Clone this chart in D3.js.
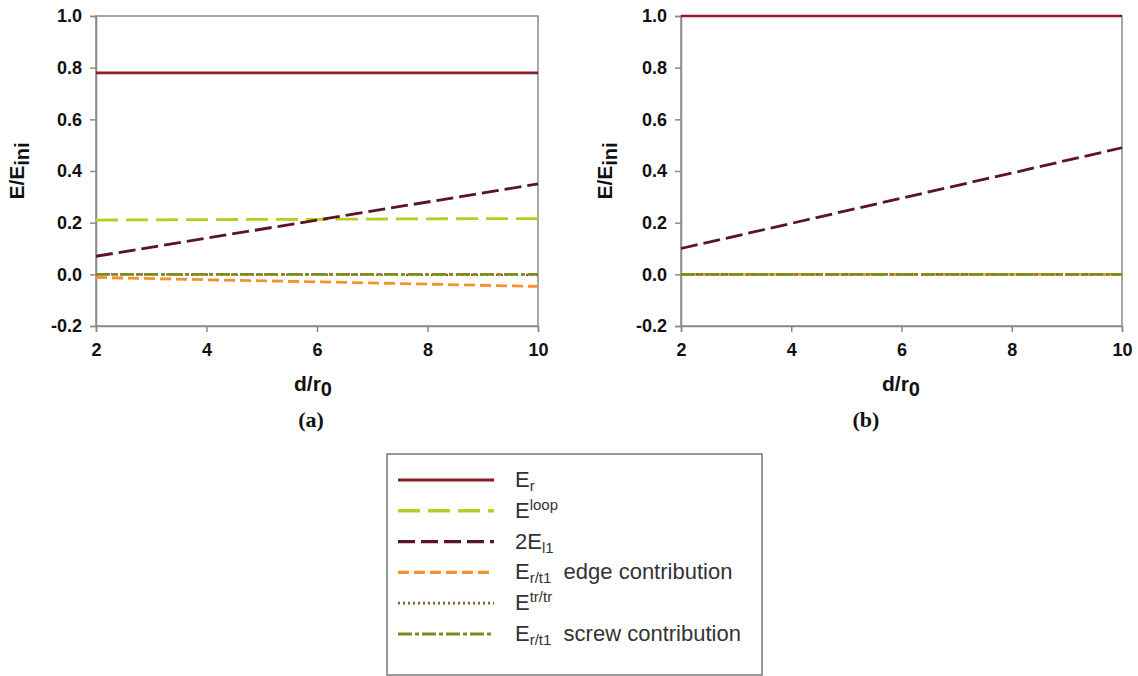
<!DOCTYPE html>
<html>
<head>
<meta charset="utf-8">
<script src="https://cdn.jsdelivr.net/npm/d3@7/dist/d3.min.js"></script>
<style>
  html, body { margin: 0; padding: 0; background: #fff; }
  svg { display: block; }
</style>
</head>
<body>
<svg id="chart" width="1138" height="676"></svg>
<script>
// Normalised energy terms versus separation d/r0
const xValues = [2, 4, 6, 8, 10];
const xTicks = [2, 4, 6, 8, 10];
const yTicks = [-0.2, 0.0, 0.2, 0.4, 0.6, 0.8, 1.0];

// Panel (a)
const a_Er = [0.78, 0.78, 0.78, 0.78, 0.78];
const a_Eloop = [0.21, 0.212, 0.213, 0.215, 0.216];
const a_2El1 = [0.07, 0.14, 0.21, 0.28, 0.35];
const a_edge = [-0.012, -0.021, -0.029, -0.038, -0.047];
const a_trtr = [0.0, -0.001, -0.001, -0.002, -0.002];
const a_screw = [0.0, 0.0, 0.0, 0.0, 0.0];

// Panel (b)
const b_Er = [1.0, 1.0, 1.0, 1.0, 1.0];
const b_Eloop = [0.0, 0.0, 0.0, 0.0, 0.0];
const b_2El1 = [0.10, 0.197, 0.295, 0.392, 0.49];
const b_edge = [0.0, 0.0, 0.0, 0.0, 0.0];
const b_trtr = [0.0, 0.0, 0.0, 0.0, 0.0];
const b_screw = [0.0, 0.0, 0.0, 0.0, 0.0];

// Series styling (order = drawing / legend order)
const seriesStyles = [
  { key: "Er",    color: "#8e1b25", dash: null,        width: 2.6 },
  { key: "Eloop", color: "#b9cc22", dash: "22,8",      width: 2.8 },
  { key: "2El1",  color: "#5b1422", dash: "17,6",      width: 2.8 },
  { key: "edge",  color: "#f39229", dash: "11,5",      width: 2.8 },
  { key: "trtr",  color: "#8a5a2e", dash: "2,3",       width: 2.2 },
  { key: "screw", color: "#7d8c1c", dash: "14,3,4,3",  width: 2.6 }
];

const panels = [
  { label: "(a)", left: 96, right: 538, series: [a_Er, a_Eloop, a_2El1, a_edge, a_trtr, a_screw],
    yTitleX: 24, xTitleX: 313, labelX: 311 },
  { label: "(b)", left: 681, right: 1122, series: [b_Er, b_Eloop, b_2El1, b_edge, b_trtr, b_screw],
    yTitleX: 612, xTitleX: 901, labelX: 866 }
];

const plotTop = 16, plotBottom = 326;
const svg = d3.select("#chart");
const axisColor = "#8a8a8a";
const fontSans = "Arial, 'Liberation Sans', Helvetica, sans-serif";
const fontSerif = "'Times New Roman', 'Liberation Serif', serif";
const fmtY = d => d3.format(".1f")(d).replace("\u2212", "-");

panels.forEach(p => {
  const x = d3.scaleLinear().domain([2, 10]).range([p.left, p.right]);
  const y = d3.scaleLinear().domain([-0.2, 1.0]).range([plotBottom, plotTop]);
  const g = svg.append("g");

  // plot frame
  g.append("rect")
    .attr("x", p.left).attr("y", plotTop)
    .attr("width", p.right - p.left).attr("height", plotBottom - plotTop)
    .attr("fill", "none").attr("stroke", axisColor).attr("stroke-width", 1.5);

  // y axis
  const yAxis = g.append("g")
    .attr("transform", `translate(${p.left},0)`)
    .call(d3.axisLeft(y).tickValues(yTicks).tickSize(6).tickPadding(8).tickFormat(fmtY));
  // x axis
  const xAxis = g.append("g")
    .attr("transform", `translate(0,${plotBottom})`)
    .call(d3.axisBottom(x).tickValues(xTicks).tickSize(6).tickPadding(11).tickFormat(d3.format("d")));

  [yAxis, xAxis].forEach(ax => {
    ax.select(".domain").attr("stroke", axisColor).attr("stroke-width", 1.5);
    ax.selectAll(".tick line").attr("stroke", axisColor).attr("stroke-width", 1.5);
    ax.selectAll(".tick text")
      .attr("fill", "#111")
      .style("font-family", fontSans)
      .style("font-weight", "bold")
      .style("font-size", "18px");
  });

  // series lines
  const line = d3.line().x((d, i) => x(xValues[i])).y(d => y(d));
  p.series.forEach((vals, i) => {
    const s = seriesStyles[i];
    g.append("path")
      .datum(vals)
      .attr("d", line)
      .attr("fill", "none")
      .attr("stroke", s.color)
      .attr("stroke-width", s.width)
      .attr("stroke-dasharray", s.dash);
  });

  // y title
  const yt = g.append("text")
    .attr("transform", `translate(${p.yTitleX},${(plotTop + plotBottom) / 2}) rotate(-90)`)
    .attr("text-anchor", "middle")
    .style("font-family", fontSans)
    .style("font-weight", "bold")
    .style("font-size", "21px")
    .attr("fill", "#111");
  yt.append("tspan").text("E/E");
  yt.append("tspan").attr("dy", 5).style("font-size", "20px").text("ini");

  // x title
  const xt = g.append("text")
    .attr("x", p.xTitleX)
    .attr("y", 391)
    .attr("text-anchor", "middle")
    .style("font-family", fontSans)
    .style("font-weight", "bold")
    .style("font-size", "21px")
    .attr("fill", "#111");
  xt.append("tspan").text("d/r");
  xt.append("tspan").attr("dy", 5).style("font-size", "20px").text("0");

  // panel label
  g.append("text")
    .attr("x", p.labelX)
    .attr("y", 427)
    .attr("text-anchor", "middle")
    .style("font-family", fontSerif)
    .style("font-weight", "bold")
    .style("font-size", "22px")
    .attr("fill", "#111")
    .text(p.label);
});

// Legend
const legendLabels = [
  [{ t: "E" }, { t: "r", sub: true }],
  [{ t: "E" }, { t: "loop", sup: true }],
  [{ t: "2E" }, { t: "l1", sub: true }],
  [{ t: "E" }, { t: "r/t1", sub: true }, { t: "  edge contribution", back: true }],
  [{ t: "E" }, { t: "tr/tr", sup: true }],
  [{ t: "E" }, { t: "r/t1", sub: true }, { t: "  screw contribution", back: true }]
];

const lg = svg.append("g");
lg.append("rect")
  .attr("x", 387).attr("y", 454)
  .attr("width", 375).attr("height", 221)
  .attr("fill", "#fff").attr("stroke", "#777").attr("stroke-width", 1.5);

const rowY = d3.scaleLinear().domain([0, 5]).range([480, 634]);
seriesStyles.forEach((s, i) => {
  const yy = rowY(i);
  lg.append("line")
    .attr("x1", 398).attr("x2", 494)
    .attr("y1", yy).attr("y2", yy)
    .attr("stroke", s.color)
    .attr("stroke-width", s.width + 0.6)
    .attr("stroke-dasharray", s.dash);
  const txt = lg.append("text")
    .attr("x", 515).attr("y", yy + 7)
    .style("font-family", fontSans)
    .style("font-size", "22px")
    .attr("fill", "#333")
    .attr("xml:space", "preserve");
  let shift = 0;
  legendLabels[i].forEach(part => {
    const ts = txt.append("tspan").text(part.t);
    if (part.sub) { ts.attr("dy", 4).style("font-size", "15px"); shift = 4; }
    else if (part.sup) { ts.attr("dy", -8).style("font-size", "15px"); shift = -8; }
    else if (part.back) { ts.attr("dy", -shift); shift = 0; }
  });
});
</script>
</body>
</html>
